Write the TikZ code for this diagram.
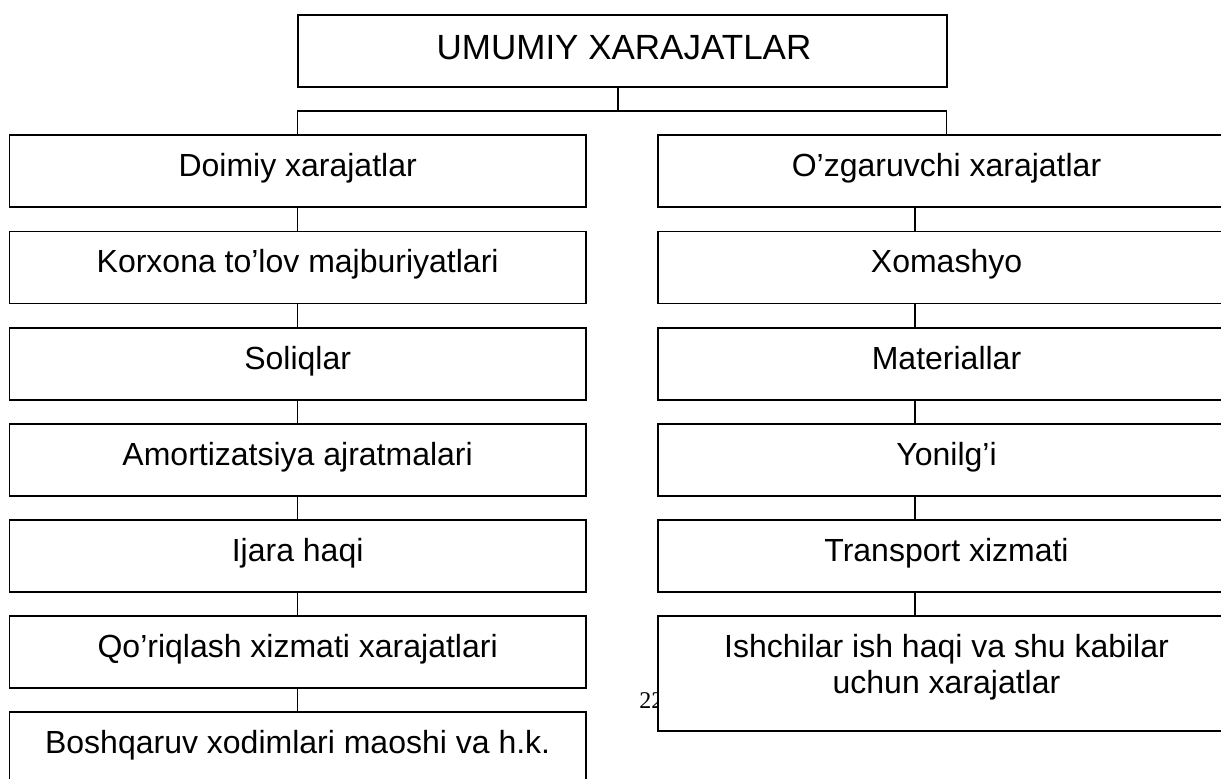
\documentclass[tikz,border=0pt]{standalone}
\usepackage{fontspec}
\setmainfont{Liberation Sans}
\newfontfamily\pagenumfont{Liberation Serif}
\begin{document}
\begin{tikzpicture}[x=0.5pt,y=-0.5pt,
  box/.style={draw=black, line width=0.8pt, fill=white, rectangle, inner sep=0pt, minimum height=36pt},
  lbox/.style={box, minimum width=288.35pt},
  rbox/.style={box, minimum width=288.5pt},
  lbl/.style={anchor=base, inner sep=0pt, font=\fontsize{16pt}{18pt}\selectfont},
  conn/.style={draw=black, line width=0.8pt}]
\useasboundingbox (0,0) rectangle (1221,778);
\clip (0,0) rectangle (1221,778);

% page number partly hidden behind a box
\node[anchor=base west, inner sep=0pt, font=\pagenumfont\fontsize{12pt}{14pt}\selectfont] (pnum) at (639,708) {22};

% top box
\node[box, minimum width=324.5pt] (top) at (622.2,51) {};
\node[anchor=base, inner sep=0pt, font=\fontsize{17.5pt}{20pt}\selectfont] (topT) at (624,59) {UMUMIY XARAJATLAR};

% left column
\node[lbox] (L0) at (297.65,171) {};
\node[lbox] (L1) at (297.65,267.5) {};
\node[lbox] (L2) at (297.65,364) {};
\node[lbox] (L3) at (297.65,460) {};
\node[lbox] (L4) at (297.65,556) {};
\node[lbox] (L5) at (297.65,652) {};
\node[lbox] (L6) at (297.65,748) {};

\node[lbl] (L0t) at (297.65,176) {Doimiy xarajatlar};
\node[lbl] (L1t) at (297.65,272.5) {Korxona to’lov majburiyatlari};
\node[lbl] (L2t) at (297.65,369) {Soliqlar};
\node[lbl] (L3t) at (297.65,465) {Amortizatsiya ajratmalari};
\node[lbl] (L4t) at (297.65,561) {Ijara haqi};
\node[lbl] (L5t) at (297.65,657) {Qo’riqlash xizmati xarajatlari};
\node[lbl] (L6t) at (297.65,753) {Boshqaruv xodimlari maoshi va h.k.};

% right column
\node[rbox] (R0) at (946.5,171) {};
\node[rbox] (R1) at (946.5,267.5) {};
\node[rbox] (R2) at (946.5,364) {};
\node[rbox] (R3) at (946.5,460) {};
\node[rbox] (R4) at (946.5,556) {};
\node[rbox, minimum height=57.5pt] (R5) at (946.5,673.5) {};

\node[lbl] (R0t) at (946.5,176) {O’zgaruvchi xarajatlar};
\node[lbl] (R1t) at (946.5,272.5) {Xomashyo};
\node[lbl] (R2t) at (946.5,369) {Materiallar};
\node[lbl] (R3t) at (946.5,465) {Yonilg’i};
\node[lbl] (R4t) at (946.5,561) {Transport xizmati};
\node[lbl] (R5t) at (946.5,657) {Ishchilar ish haqi va shu kabilar};
\node[lbl] (R5u) at (946.5,693) {uchun xarajatlar};

% connectors
\coordinate (bar) at (618,111);
\coordinate (rc) at (915,0);
\draw[conn] (top.south -| bar) -- (bar);
\draw[conn] (L0.north) -- (L0.north |- bar) -- (R0.north |- bar) -- (R0.north);
\foreach \a/\b in {L0/L1,L1/L2,L2/L3,L3/L4,L4/L5,L5/L6}
  \draw[conn] (\a.south) -- (\b.north);
\foreach \a/\b in {R0/R1,R1/R2,R2/R3,R3/R4,R4/R5}
  \draw[conn] (\a.south -| rc) -- (\b.north -| rc);
\end{tikzpicture}
\end{document}
